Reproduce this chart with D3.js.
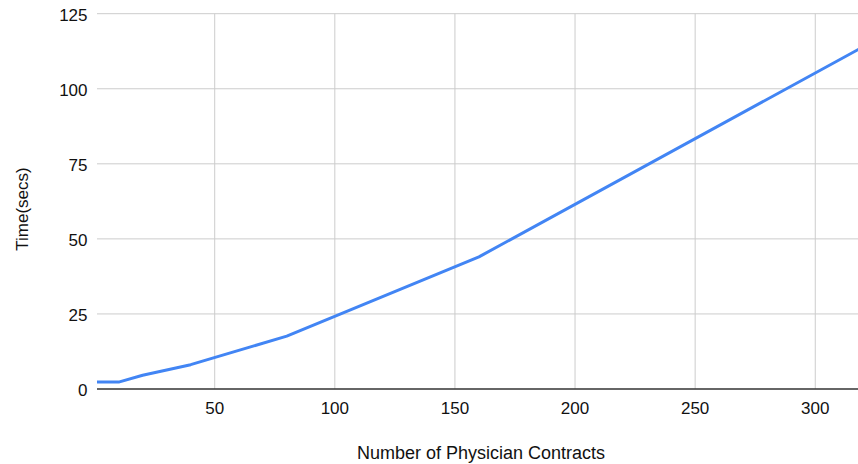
<!DOCTYPE html>
<html>
<head>
<meta charset="utf-8">
<script src="https://cdn.jsdelivr.net/npm/d3@7"></script>
<style>
  html, body { margin: 0; padding: 0; background: #fff; }
  svg { display: block; font-family: "Liberation Sans", Arial, sans-serif; }
</style>
</head>
<body>
<svg id="chart" width="858" height="464"></svg>
<script>
// Contract count vs. processing time
const contracts = [1, 10, 20, 40, 80, 160, 320];
const seconds   = [2.3, 2.3, 4.6, 8.1, 17.6, 44.0, 114.0];
const xTicks = [50, 100, 150, 200, 250, 300];
const yTicks = [0, 25, 50, 75, 100, 125];

const svg = d3.select("#chart");
const plot = { left: 97, right: 863.3, top: 13.7, bottom: 389 };

const x = d3.scaleLinear().domain([1, 320]).range([plot.left, plot.right]);
const y = d3.scaleLinear().domain([0, 125]).range([plot.bottom, plot.top]);

// horizontal gridlines
svg.append("g")
  .selectAll("line")
  .data(yTicks.filter(d => d > 0))
  .join("line")
  .attr("x1", plot.left).attr("x2", plot.right)
  .attr("y1", d => y(d)).attr("y2", d => y(d))
  .attr("stroke", "#cccccc").attr("stroke-width", 1);

// vertical gridlines
svg.append("g")
  .selectAll("line")
  .data(xTicks)
  .join("line")
  .attr("x1", d => x(d)).attr("x2", d => x(d))
  .attr("y1", plot.top).attr("y2", plot.bottom)
  .attr("stroke", "#cccccc").attr("stroke-width", 1);

// y tick labels
svg.append("g")
  .selectAll("text")
  .data(yTicks)
  .join("text")
  .attr("x", 87.5)
  .attr("y", d => y(d))
  .attr("dy", "0.4em")
  .attr("text-anchor", "end")
  .attr("font-size", 17)
  .attr("fill", "#111")
  .text(d => d);

// x tick labels
svg.append("g")
  .selectAll("text")
  .data(xTicks)
  .join("text")
  .attr("x", d => x(d))
  .attr("y", plot.bottom + 25.3)
  .attr("text-anchor", "middle")
  .attr("font-size", 17)
  .attr("fill", "#111")
  .text(d => d);

// baseline
svg.append("line")
  .attr("x1", plot.left).attr("x2", plot.right)
  .attr("y1", y(0)).attr("y2", y(0))
  .attr("stroke", "#333").attr("stroke-width", 1.5);

// series line
const line = d3.line()
  .x((d, i) => x(contracts[i]))
  .y(d => y(d));

svg.append("path")
  .datum(seconds)
  .attr("d", line)
  .attr("fill", "none")
  .attr("stroke", "#4285f4")
  .attr("stroke-width", 3)
  .attr("stroke-linejoin", "round");

// axis titles
svg.append("text")
  .attr("x", 481)
  .attr("y", 459)
  .attr("text-anchor", "middle")
  .attr("font-size", 18)
  .attr("fill", "#111")
  .text("Number of Physician Contracts");

svg.append("text")
  .attr("transform", "translate(28,209) rotate(-90)")
  .attr("text-anchor", "middle")
  .attr("font-size", 17)
  .attr("fill", "#111")
  .text("Time(secs)");
</script>
</body>
</html>
